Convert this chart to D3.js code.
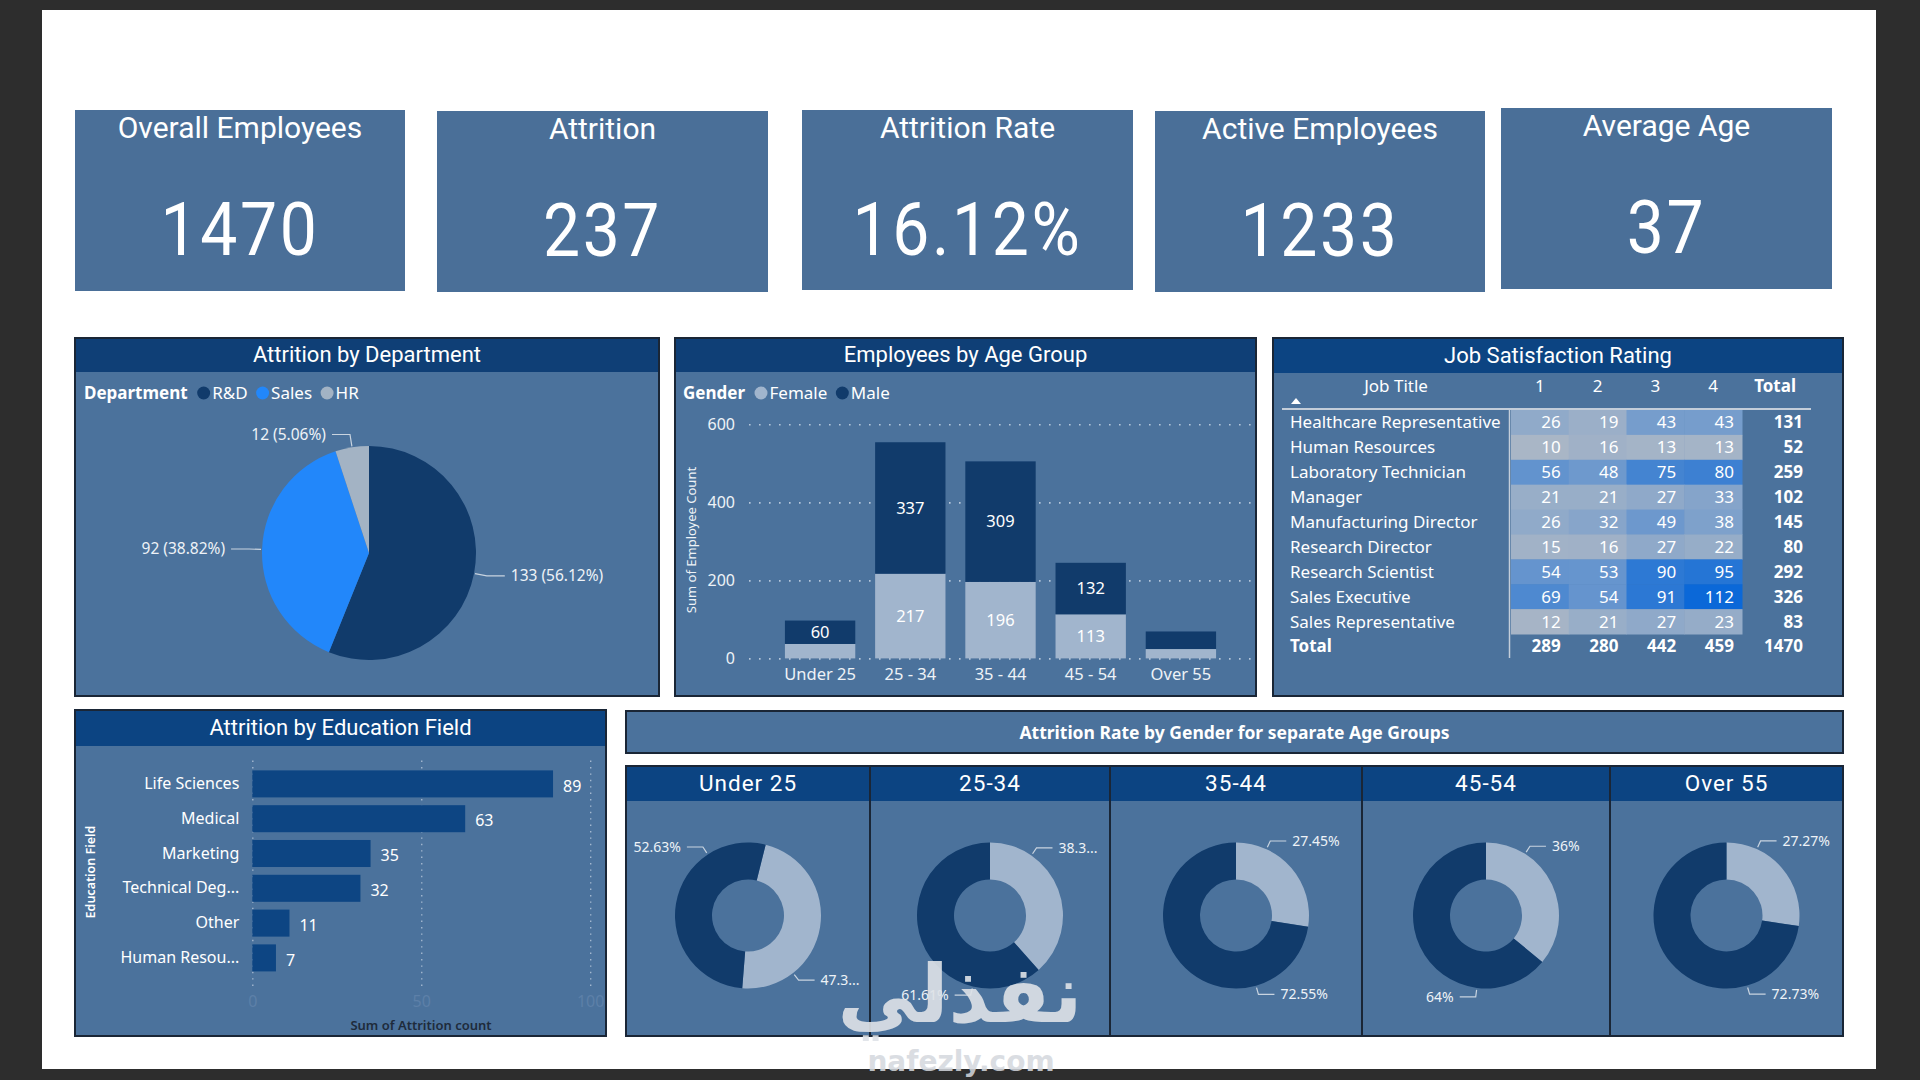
<!DOCTYPE html>
<html><head><meta charset="utf-8">
<script src="https://cdn.jsdelivr.net/npm/d3@7"></script>
<style>
html,body{margin:0;padding:0;background:#2d2d2d;overflow:hidden;}
svg{display:block;}
</style></head><body>
<svg id="chart" width="1920" height="1080"></svg>
<script>
// ---------------- DATA ----------------
const kpiLabels = ["Overall Employees","Attrition","Attrition Rate","Active Employees","Average Age"];
const kpiValues = ["1470","237","16.12%","1233","37"];

const departments = ["R&D","Sales","HR"];
const deptAttrition = [133, 92, 12];

const ageGroups = ["Under 25","25 - 34","35 - 44","45 - 54","Over 55"];
const genders = ["Female","Male"];
const femaleCounts = [37, 217, 196, 113, 24];
const maleCounts = [60, 337, 309, 132, 45];
const ageTicks = [0, 200, 400, 600];

const jobTitles = ["Healthcare Representative","Human Resources","Laboratory Technician","Manager",
  "Manufacturing Director","Research Director","Research Scientist","Sales Executive","Sales Representative"];
const satisfactionLevels = ["1","2","3","4"];
const satisfactionCounts = [
  [26,19,43,43],[10,16,13,13],[56,48,75,80],[21,21,27,33],[26,32,49,38],
  [15,16,27,22],[54,53,90,95],[69,54,91,112],[12,21,27,23]];

const eduFields = ["Life Sciences","Medical","Marketing","Technical Degree","Other","Human Resources"];
const eduAttrition = [89, 63, 35, 32, 11, 7];
const eduTicks = [0, 50, 100];

const donutGroups = ["Under 25","25-34","35-44","45-54","Over 55"];
const donutFemalePct = [47.37, 38.39, 27.45, 36, 27.27];
const donutMalePct = [52.63, 61.61, 72.55, 64, 72.73];

// ---------------- STYLE / LAYOUT ----------------
const TF = "Roboto, 'DejaVu Sans', sans-serif";
const BF = "'Segoe UI','Noto Sans','Open Sans',sans-serif";
const C = {
  frame:"#2d2d2d", page:"#ffffff", card:"#4a6f98", panel:"#4b729c", border:"#1a2636",
  header:"#0f3f76", header2:"#0c4482", male:"#113b6b", female:"#a1b5cd",
  rd:"#113b6b", sales:"#2287fa", hr:"#a3b3c4", bar:"#0d4583", text:"#ffffff"
};

const svg = d3.select("#chart");
svg.append("rect").attr("width",1920).attr("height",1080).attr("fill",C.frame);
svg.append("rect").attr("x",42).attr("y",10).attr("width",1834).attr("height",1059).attr("fill",C.page);

function measure(str, size, weight, family){
  const t = svg.append("text").attr("font-size",size).attr("font-weight",weight||400)
    .attr("font-family",family||BF).text(str);
  const w = t.node().getComputedTextLength(); t.remove(); return w;
}

// ---------------- KPI CARDS ----------------
const kpiBoxes = [[75,110,330,181],[437,111,331,181],[802,110,331,180],[1155,111,330,181],[1501,108,331,181]];
kpiBoxes.forEach((b,i)=>{
  const g = svg.append("g");
  g.append("rect").attr("x",b[0]).attr("y",b[1]).attr("width",b[2]).attr("height",b[3]).attr("fill",C.card);
  const cx = b[0]+b[2]/2;
  g.append("text").attr("x",cx).attr("y",b[1]+28).attr("text-anchor","middle")
    .attr("font-family",TF).attr("font-size",30).attr("fill",C.text).text(kpiLabels[i]);
  g.append("text").attr("transform",`translate(${cx},${b[1]+145}) scale(0.88,1)`).attr("text-anchor","middle")
    .attr("font-family",TF).attr("font-size",75).attr("letter-spacing",3).attr("fill",C.text).text(kpiValues[i]);
});

// ---------------- PANEL HELPER ----------------
function panel(x,y,w,h,hh,title,hc,opts){
  opts = opts||{};
  const g = svg.append("g");
  g.append("rect").attr("x",x).attr("y",y).attr("width",w).attr("height",h)
    .attr("fill",C.panel).attr("stroke",C.border).attr("stroke-width",2);
  if(hh>0){
    g.append("rect").attr("x",x+1).attr("y",y+1).attr("width",w-2).attr("height",hh-1).attr("fill",hc);
  }
  g.append("text").attr("x",x+w/2).attr("y",y+(hh>0?hh:h)/2+7).attr("text-anchor","middle")
    .attr("font-family",opts.font||TF).attr("font-size",opts.size||22).attr("font-weight",opts.weight||400)
    .attr("letter-spacing",opts.ls||0).attr("fill",C.text).text(title);
  return g;
}

function legend(x,y,title,items,colors){
  const fs = 17;
  const g = svg.append("g").attr("font-family",BF).attr("font-size",fs).attr("fill",C.text);
  g.append("text").attr("x",x).attr("y",y).attr("dy","0.35em").attr("font-weight",700).text(title);
  let cx = x + measure(title,fs,700) + 16;
  items.forEach((it,i)=>{
    g.append("circle").attr("cx",cx).attr("cy",y).attr("r",6.5).attr("fill",colors[i]);
    g.append("text").attr("x",cx+8.5).attr("y",y).attr("dy","0.35em").text(it);
    cx += 8.5 + measure(it,fs,400) + 15;
  });
}

// ---------------- ATTRITION BY DEPARTMENT ----------------
panel(75,338,584,358,34,"Attrition by Department",C.header);
legend(84,393,"Department",departments,[C.rd,C.sales,C.hr]);
{
  const cx=369, cy=553, r=107;
  const total = d3.sum(deptAttrition);
  const arcs = d3.pie().sort(null).value(d=>d)(deptAttrition);
  const arc = d3.arc().innerRadius(0).outerRadius(r);
  const colors=[C.rd,C.sales,C.hr];
  const g = svg.append("g").attr("transform",`translate(${cx},${cy})`);
  g.selectAll("path").data(arcs).join("path").attr("d",arc).attr("fill",(d,i)=>colors[i]);
  arcs.forEach((d,i)=>{
    const a=(d.startAngle+d.endAngle)/2;
    const s=Math.sin(a), c=-Math.cos(a);
    const p0=[s*(r+1),c*(r+1)], p1=[s*(r+13),c*(r+13)];
    const side = s>=0?1:-1;
    const p2=[p1[0]+side*18,p1[1]];
    g.append("polyline").attr("points",[p0,p1,p2].map(p=>p.join(",")).join(" "))
      .attr("fill","none").attr("stroke","#c9d4e0").attr("stroke-width",1.2);
    g.append("text").attr("x",p2[0]+side*6).attr("y",p2[1]).attr("dy","0.35em")
      .attr("text-anchor",side>0?"start":"end").attr("font-family",BF).attr("font-size",15.5)
      .attr("fill","#eef2f7").text(`${d.data} (${(d.data/total*100).toFixed(2)}%)`);
  });
}

// ---------------- EMPLOYEES BY AGE GROUP ----------------
panel(675,338,581,358,34,"Employees by Age Group",C.header);
legend(683,393,"Gender",genders,[C.female,C.male]);
{
  const y = d3.scaleLinear().domain([0,600]).range([658.4,424.3]);
  const x = d3.scaleBand().domain(ageGroups).range([775,1226]).paddingInner(0.22).paddingOuter(0.11);
  const gy = svg.append("g").attr("transform","translate(749,0)")
    .call(d3.axisLeft(y).tickValues(ageTicks).tickSize(-502).tickPadding(14));
  gy.select(".domain").remove();
  gy.selectAll("line").attr("stroke","#c9d6e6").attr("stroke-width",1.6).attr("stroke-dasharray","1.6,8.4").attr("opacity",0.85);
  gy.selectAll("text").attr("font-family",BF).attr("font-size",16).attr("fill","#eef2f7");
  const gx = svg.append("g").attr("transform","translate(0,658.4)")
    .call(d3.axisBottom(x).tickSize(0).tickPadding(10));
  gx.select(".domain").remove();
  gx.selectAll("text").attr("font-family",BF).attr("font-size",16.5).attr("fill","#eef2f7");
  svg.append("text").attr("transform","translate(691,540) rotate(-90)").attr("text-anchor","middle")
    .attr("dy","0.35em").attr("font-family",BF).attr("font-size",13).attr("fill","#eef2f7").text("Sum of Employee Count");
  const stackData = ageGroups.map((g,i)=>({group:g, Female:femaleCounts[i], Male:maleCounts[i]}));
  const series = d3.stack().keys(genders)(stackData);
  const colors=[C.female,C.male];
  series.forEach((s,si)=>{
    svg.append("g").selectAll("rect").data(s).join("rect")
      .attr("x",d=>x(d.data.group)).attr("width",x.bandwidth())
      .attr("y",d=>y(d[1])).attr("height",d=>y(d[0])-y(d[1])).attr("fill",colors[si]);
    svg.append("g").selectAll("text").data(s.filter(d=>y(d[0])-y(d[1])>=20)).join("text")
      .attr("x",d=>x(d.data.group)+x.bandwidth()/2).attr("y",d=>(y(d[0])+y(d[1]))/2).attr("dy","0.35em")
      .attr("text-anchor","middle").attr("font-family",BF).attr("font-size",16.5).attr("fill","#ffffff")
      .text(d=>d[1]-d[0]);
  });
}

// ---------------- JOB SATISFACTION TABLE ----------------
panel(1273,338,570,358,35,"Job Satisfaction Rating",C.header2);
{
  const col = d3.scaleBand().domain(satisfactionLevels).range([1511,1742]);
  const row = d3.scaleBand().domain(jobTitles).range([410,634]);
  const color = d3.scaleLinear().domain([10,112]).range(["#a9b6c6","#0b68d8"]);
  const g = svg.append("g").attr("font-family",BF).attr("font-size",17).attr("fill",C.text);
  // header
  g.append("text").attr("x",1396).attr("y",386).attr("dy","0.35em").attr("text-anchor","middle").text("Job Title");
  g.append("path").attr("d","M1291,404 L1296,398 L1301,404 Z").attr("fill","#ffffff");
  satisfactionLevels.forEach(l=>{
    g.append("text").attr("x",col(l)+col.bandwidth()/2).attr("y",386).attr("dy","0.35em").attr("text-anchor","middle").text(l);
  });
  g.append("text").attr("x",1796).attr("y",386).attr("dy","0.35em").attr("text-anchor","end").attr("font-weight",700).text("Total");
  g.append("line").attr("x1",1282).attr("x2",1811).attr("y1",409).attr("y2",409).attr("stroke","#c3cdd9").attr("stroke-width",2);
  // cells
  jobTitles.forEach((t,ri)=>{
    const cy = row(t)+row.bandwidth()/2;
    g.append("text").attr("x",1290).attr("y",cy).attr("dy","0.35em").text(t);
    satisfactionLevels.forEach((l,ci)=>{
      const v = satisfactionCounts[ri][ci];
      g.append("rect").attr("x",col(l)).attr("y",row(t)).attr("width",col.bandwidth()+0.5).attr("height",row.bandwidth()+0.5).attr("fill",color(v));
      g.append("text").attr("x",col(l)+col.bandwidth()-8).attr("y",cy).attr("dy","0.35em").attr("text-anchor","end").text(v);
    });
    g.append("text").attr("x",1803).attr("y",cy).attr("dy","0.35em").attr("text-anchor","end").attr("font-weight",700)
      .text(d3.sum(satisfactionCounts[ri]));
  });
  const totY = 634 + row.bandwidth()/2;
  g.append("text").attr("x",1290).attr("y",totY).attr("dy","0.35em").attr("font-weight",700).text("Total");
  satisfactionLevels.forEach((l,ci)=>{
    g.append("text").attr("x",col(l)+col.bandwidth()-8).attr("y",totY).attr("dy","0.35em").attr("text-anchor","end").attr("font-weight",700)
      .text(d3.sum(satisfactionCounts,r=>r[ci]));
  });
  g.append("text").attr("x",1803).attr("y",totY).attr("dy","0.35em").attr("text-anchor","end").attr("font-weight",700)
    .text(d3.sum(satisfactionCounts.flat()));
  g.append("line").attr("x1",1509.5).attr("x2",1509.5).attr("y1",410).attr("y2",658).attr("stroke","#c3cdd9").attr("stroke-width",1.5);
}

// ---------------- ATTRITION BY EDUCATION FIELD ----------------
panel(75,710,531,326,36,"Attrition by Education Field",C.header2);
{
  const x = d3.scaleLinear().domain([0,100]).range([252.3,590.2]);
  const y = d3.scaleBand().domain(eduFields).range([766.5,975.3]).paddingInner(0.224).paddingOuter(0.112);
  const gx = svg.append("g").attr("transform","translate(0,986)")
    .call(d3.axisBottom(x).tickValues(eduTicks).tickSize(-228).tickPadding(10));
  gx.select(".domain").remove();
  gx.selectAll("line").attr("stroke","#c9d6e6").attr("stroke-width",1.4).attr("stroke-dasharray","1.4,5").attr("opacity",0.7);
  gx.selectAll("text").attr("font-family",BF).attr("font-size",16).attr("fill","#5d80a8");
  const maxW = 120;
  const gy = svg.append("g").attr("transform","translate(252.3,0)")
    .call(d3.axisLeft(y).tickSize(0).tickPadding(13).tickFormat(d=>{
      if(measure(d,16,400)<=maxW) return d;
      let n=d.length-1;
      while(n>1 && measure(d.slice(0,n)+"...",16,400)>maxW) n--;
      return d.slice(0,n)+"...";
    }));
  gy.select(".domain").remove();
  gy.selectAll("text").attr("font-family",BF).attr("font-size",16).attr("fill","#ffffff");
  const data = eduFields.map((f,i)=>({f, v:eduAttrition[i]}));
  svg.append("g").selectAll("rect").data(data).join("rect")
    .attr("x",x(0)).attr("y",d=>y(d.f)).attr("width",d=>x(d.v)-x(0)).attr("height",y.bandwidth()).attr("fill",C.bar);
  svg.append("g").selectAll("text").data(data).join("text")
    .attr("x",d=>x(d.v)+10).attr("y",d=>y(d.f)+y.bandwidth()/2+2).attr("dy","0.35em")
    .attr("font-family",BF).attr("font-size",16).attr("fill","#ffffff").text(d=>d.v);
  svg.append("text").attr("transform","translate(91,872) rotate(-90)").attr("text-anchor","middle").attr("dy","0.35em")
    .attr("font-family",BF).attr("font-size",12.5).attr("font-weight",600).attr("fill","#ffffff").text("Education Field");
  svg.append("text").attr("x",421).attr("y",1025).attr("text-anchor","middle").attr("dy","0.35em")
    .attr("font-family",BF).attr("font-size",13).attr("font-weight",600).attr("fill","#1e2b3b").text("Sum of Attrition count");
}

// ---------------- ATTRITION RATE BY GENDER PER AGE GROUP ----------------
panel(626,711,1217,42,0,"Attrition Rate by Gender for separate Age Groups",null,{font:BF,size:17.5,weight:700});
{
  const edges = [626,870,1110,1362,1610,1843];
  const rot = [14,0,0,0,0];          // start rotation (deg) of each donut
  const labelFrac = [0.75,0.25,0.25,0.25,0.25]; // label anchor position along the slice
  const rO=73, rI=36, cy=915.5;
  const arc = d3.arc().innerRadius(rI).outerRadius(rO);
  donutGroups.forEach((grp,i)=>{
    const x0=edges[i], x1=edges[i+1];
    panel(x0,766,x1-x0,270,35,grp,C.header2,{size:22.5,ls:1});
    const cx=(x0+x1)/2;
    const start = rot[i]*Math.PI/180;
    const arcs = d3.pie().sort(null).startAngle(start).endAngle(start+2*Math.PI)([donutFemalePct[i],donutMalePct[i]]);
    const g = svg.append("g").attr("transform",`translate(${cx},${cy})`);
    g.selectAll("path").data(arcs).join("path").attr("d",arc).attr("fill",(d,j)=>j===0?C.female:C.male);
    arcs.forEach(d=>{
      const a = d.startAngle + labelFrac[i]*(d.endAngle-d.startAngle);
      const s=Math.sin(a), c=-Math.cos(a);
      const p0=[s*(rO+2),c*(rO+2)], p1=[s*(rO+9),c*(rO+9)];
      const side = s>=0?1:-1;
      const p2=[p1[0]+side*16,p1[1]];
      g.append("polyline").attr("points",[p0,p1,p2].map(p=>p.join(",")).join(" "))
        .attr("fill","none").attr("stroke","#c9d4e0").attr("stroke-width",1.2);
      let label = (+d.data.toFixed(2))+"%";
      const tx = cx+p2[0]+side*6;
      if(side>0){
        const limit = x1-6;
        if(tx+measure(label,14,400)>limit){
          let n=label.length-1;
          while(n>1 && tx+measure(label.slice(0,n)+"...",14,400)>limit) n--;
          label = label.slice(0,n)+"...";
        }
      }
      g.append("text").attr("x",p2[0]+side*6).attr("y",p2[1]).attr("dy","0.35em")
        .attr("text-anchor",side>0?"start":"end").attr("font-family",BF).attr("font-size",14)
        .attr("fill","#eef2f7").text(label);
    });
  });
}

// ---------------- WATERMARK ----------------
svg.append("text").attr("x",960).attr("y",1022).attr("text-anchor","middle")
  .attr("font-family","'DejaVu Sans',sans-serif").attr("font-weight",700).attr("font-size",80)
  .attr("fill","#dfe3e8").attr("opacity",0.9).text("نفذلي");
svg.append("text").attr("x",961).attr("y",1071).attr("text-anchor","middle")
  .attr("font-family","'DejaVu Sans',sans-serif").attr("font-weight",700).attr("font-size",28)
  .attr("fill","#d4d8de").attr("opacity",0.85).text("nafezly.com");
</script>
</body></html>
